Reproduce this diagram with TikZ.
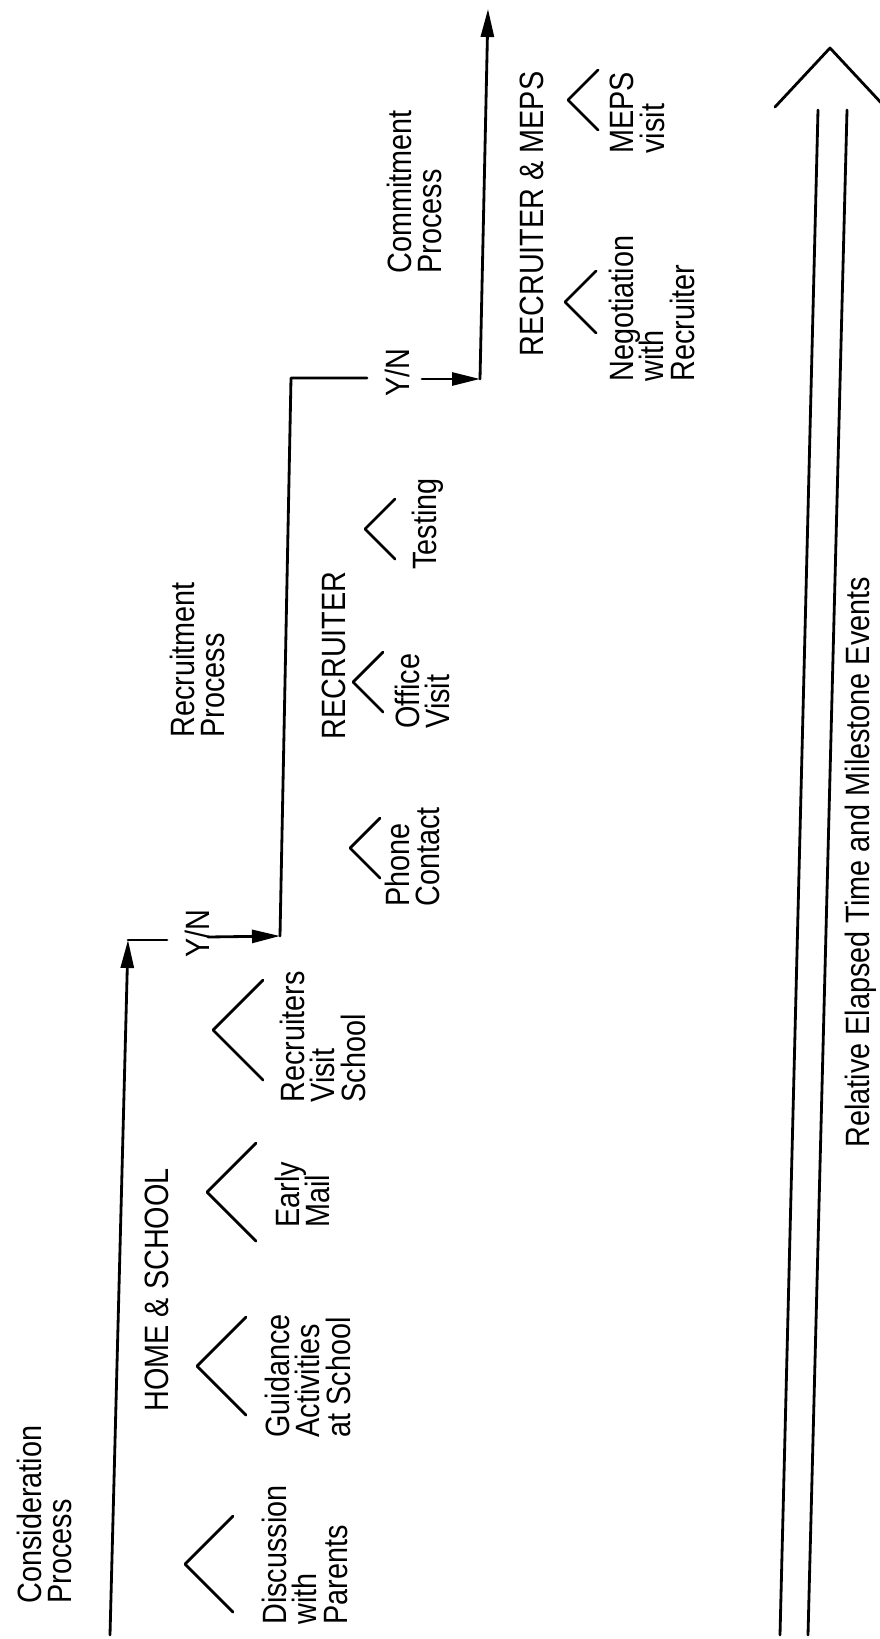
\documentclass[tikz,border=0pt]{standalone}
\usepackage{fontspec}
\setmainfont{Liberation Sans}
\usetikzlibrary{arrows.meta}
\newcommand\lblfont{\fontsize{16.4}{15}\selectfont\lineskiplimit=-\maxdimen}

\begin{document}
\begin{tikzpicture}[
    x=0.02cm, y=-0.02cm,
    line width=1.6pt, line join=round, line cap=round,
    lbl/.style={rotate=90, yscale=1.17, anchor=north west, inner sep=0pt, align=left, font=\lblfont},
    arr/.style={-{Triangle[length=0.56cm, width=0.26cm]}}
]
\useasboundingbox (0,0) rectangle (879,1639);

% home & school
\node[lbl] (consid) at (15,1605) {Consideration\\Process};
\node[lbl] (homeschool) at (143,1413) {HOME \& SCHOOL};
\node[lbl] (discuss) at (260,1626) {Discussion\\with\\Parents};
\node[lbl] (guidance) at (263,1439) {Guidance\\Activities\\at School};
\node[lbl] (earlymail) at (273,1229) {Early\\Mail};
\node[lbl] (visitschool) at (278,1104) {Recruiters\\Visit\\School};
\node[lbl] (yn1) at (183,959) {Y/N};

% recruiter
\node[lbl] (recruitment) at (168,739) {Recruitment\\Process};
\node[lbl] (recruiter) at (320,741) {RECRUITER};
\node[lbl] (phone) at (383,908) {Phone\\Contact};
\node[lbl] (office) at (393,730) {Office\\Visit};
\node[lbl] (testing) at (410,571) {Testing};
\node[lbl] (yn2) at (383,398) {Y/N};

% recruiter & meps
\node[lbl] (commit) at (385,275) {Commitment\\Process};
\node[lbl] (recmeps) at (518,358) {RECRUITER \& MEPS};
\node[lbl] (negotiate) at (607,383) {Negotiation\\with\\Recruiter};
\node[lbl] (meps) at (608,155) {MEPS\\visit};

\node[lbl] (elapsed) at (843,1149) {Relative Elapsed Time and Milestone Events};

% milestone marks
\foreach \ax/\ay/\s in {185/1564/48, 197/1366/49, 207/1192/49, 213/1030/50,
    350/848/30, 353/682/30, 365/529/30, 565/302/31, 568/100/30}
  \draw (\ax+\s,\ay-\s) -- (\ax,\ay) -- (\ax+\s,\ay+\s);

% process steps
\coordinate (c0) at (110,1635);
\coordinate (c1) at (128,940);
\coordinate (c2) at (167,940);
\coordinate (c3) at (208,937);
\coordinate (c4) at (280,936);
\coordinate (c5) at (291,378);
\coordinate (c6) at (367,378);
\coordinate (c7) at (422,379);
\coordinate (c8) at (480,379);
\coordinate (c9) at (488,9);

\draw[arr] (c0) -- (c1);
\draw (c1) -- (c2);
\draw[arr] (c3) -- (c4);
\draw (c4) -- (c5) -- (c6);
\draw[arr] (c7) -- (c8);
\draw[arr] (c8) -- (c9);

% time axis
\coordinate (t1) at (780,1635);
\coordinate (t2) at (818,110);
\coordinate (t3) at (808,1635);
\coordinate (t4) at (847,110);
\coordinate (tl) at (775,107);
\coordinate (ttop) at (830,48);
\coordinate (tr) at (885,107);

\draw (t1) -- (t2);
\draw (t3) -- (t4);
\draw (tl) -- (ttop) -- (tr);

\end{tikzpicture}
\end{document}
